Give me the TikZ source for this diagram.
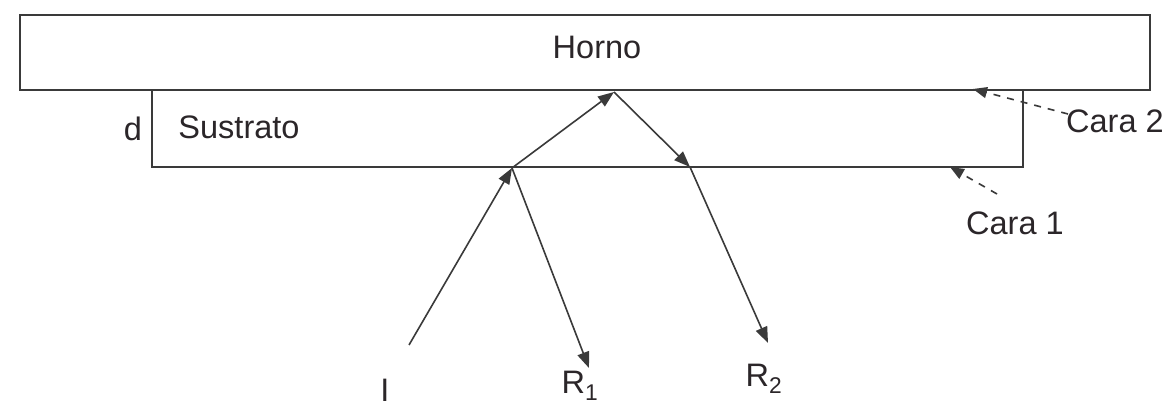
\documentclass[tikz,border=0pt]{standalone}
\usepackage{fontspec}
\setmainfont{Liberation Sans}
\usetikzlibrary{arrows.meta}
\definecolor{ink}{HTML}{2B2629}
\definecolor{linec}{HTML}{3A3A3A}
\begin{document}
\begin{tikzpicture}[x=1pt,y=-1pt,
  lbl/.style={font=\fontsize{32.5}{38}\selectfont, text=ink, inner sep=0pt},
  box/.style={draw=linec, line width=1.8pt},
  ray/.style={draw=linec, line width=1.6pt, -{Triangle[length=16pt,width=12pt]}},
  pointer/.style={draw=linec, line width=1.6pt, dash pattern=on 7pt off 7pt, -{Triangle[length=14pt,width=11pt]}}]
\useasboundingbox[fill=white] (0,0) rectangle (1171,409);
% boxes
\draw[box] (20,15) rectangle (1150,90);
\draw[box] (152,90) -- (152,167) -- (1023,167) -- (1023,90);
% labels
\node[lbl] (horno) at (597,47) {Horno};
\node[lbl] (d) at (133,129) {d};
\node[lbl] (sustrato) at (239,127) {Sustrato};
\node[lbl, anchor=west] (cara2) at (1066,121) {Cara 2};
\node[lbl, anchor=west] (cara1) at (966,223) {Cara 1};
\node[lbl] (I) at (385,390) {I};
\node[lbl] (R1) at (580,386) {R\textsubscript{1}};
\node[lbl] (R2) at (764,379) {R\textsubscript{2}};
% ray points
\coordinate (s) at (409,345);
\coordinate (a) at (512,168);
\coordinate (b) at (614,92);
\coordinate (c) at (690,167);
\coordinate (r1) at (589,368);
\coordinate (r2) at (768,343);
\draw[ray] (s) -- (a);
\draw[ray] (a) -- (r1);
\draw[ray] (a) -- (b);
\draw[ray] (b) -- (c);
\draw[ray] (c) -- (r2);
% pointers
\coordinate (c2tail) at (1068,114);
\coordinate (c2tip) at (973,89);
\coordinate (c1tail) at (997,194);
\coordinate (c1tip) at (950,167);
\draw[pointer] (c2tail) -- (c2tip);
\draw[pointer] (c1tail) -- (c1tip);
\end{tikzpicture}
\end{document}
